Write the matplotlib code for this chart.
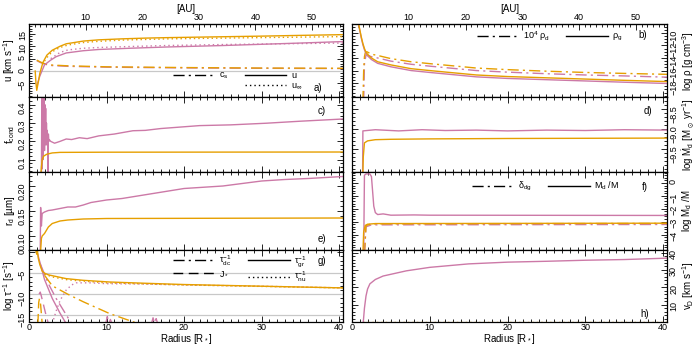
import numpy as np
import matplotlib
matplotlib.use('Agg')
import matplotlib.pyplot as plt
from matplotlib.ticker import MultipleLocator, FixedLocator
from matplotlib.lines import Line2D

plt.rcParams['font.family'] = ['Liberation Sans', 'DejaVu Sans']
plt.rcParams['mathtext.default'] = 'regular'
plt.rcParams['font.size'] = 6.5

ORANGE = '#E69F00'
PINK = '#CC79A7'
GREY = '#c8c8c8'
DASHDOT = (0, (8, 3, 1.5, 3))
DASHED = (0, (7, 4))
DOTTED = (0, (1, 2.2))
AU_PER_RSTAR = 1.37

# ---- panel a: velocities
r_u_or = [0.8, 0.9, 1.0, 1.2, 1.4, 1.8, 2.3, 3, 4, 4.8, 7, 9, 12, 15, 18, 22, 26, 30, 35, 40.5]
u_or = [0, -5, -7.8, -4.5, -0.9, 3.5, 6.4, 8.4, 10.0, 11.0, 12.1, 12.6, 13.0, 13.3, 13.5, 13.7, 13.9, 14.1, 14.4, 14.7]
r_uinf_or = [2.0, 2.5, 3, 4, 5, 7, 9, 12, 18, 25, 30, 35, 40.5]
uinf_or = [4.0, 6.2, 7.8, 9.5, 10.5, 11.5, 12.0, 12.5, 13.0, 13.3, 13.5, 13.7, 13.9]
r_u_pk = [1.0, 1.2, 1.4, 2.0, 2.8, 3.5, 4.8, 7, 9, 13, 17.7, 25, 30, 35, 40.5]
u_pk = [-6.0, -4.0, -2.0, 2.5, 4.4, 5.8, 7.3, 8.2, 8.7, 9.2, 9.7, 10.3, 10.8, 11.3, 11.9]
r_uinf_pk = [2.8, 4, 5, 7, 9, 13, 17.7, 25, 30, 35, 40.5]
uinf_pk = [5.0, 7.5, 8.5, 9.2, 9.5, 9.9, 10.3, 10.7, 10.9, 11.1, 11.3]
r_cs = [1.0, 1.5, 2.0, 2.5, 3, 5, 10, 20, 30, 40.5]
cs_or = [4.4, 3.6, 3.0, 2.6, 2.4, 2.1, 1.7, 1.4, 1.2, 1.1]
cs_pk = [4.2, 3.4, 2.8, 2.4, 2.2, 1.9, 1.55, 1.25, 1.1, 1.0]

# ---- panel b: densities
r_rho = [0.8, 1.0, 1.2, 1.4, 1.6, 1.8, 2.0, 2.5, 3.3, 5, 7.6, 10, 16, 20, 25, 30, 35, 40.5]
rhog_or = [-8.3, -9.5, -10.7, -11.7, -12.5, -13.1, -13.4, -14.0, -14.6, -15.1, -15.7, -16.0, -16.7, -16.95, -17.15, -17.35, -17.55, -17.75]
rhog_pk = [-8.4, -9.65, -10.85, -11.9, -12.7, -13.3, -13.65, -14.25, -14.85, -15.4, -16.0, -16.3, -17.0, -17.25, -17.45, -17.65, -17.85, -18.05]
r_rhod_or = [1.4, 1.5, 1.6, 1.7, 1.9, 2.5, 3.3, 5, 7.6, 10, 16, 20, 25, 30, 35, 40.5]
rhod_or = [-21, -16, -13.8, -13.2, -13.0, -13.4, -13.6, -14.1, -14.6, -14.9, -15.6, -15.85, -16.1, -16.3, -16.45, -16.6]
r_rhod_pk = [1.5, 1.6, 1.8, 2.5, 3.3, 5, 7.6, 10, 16, 20, 25, 30, 35, 40.5]
rhod_pk = [-21, -15, -13.5, -13.8, -14.0, -14.5, -15.0, -15.3, -16.0, -16.25, -16.5, -16.7, -16.85, -17.05]

# ---- panel c: condensation degree
r_fc_pk = [1.6, 1.65, 1.7, 1.75, 1.8, 1.85, 1.9, 1.95, 2.0, 2.05, 2.1, 2.15, 2.2, 2.25, 2.3, 2.35, 2.4, 2.45, 2.5, 2.55,
           2.6, 2.8, 3.3, 4, 4.8, 5.5, 6.5, 7.5, 9, 11, 13.4, 15, 17, 22, 26, 30.6, 35, 40.5]
fc_pk = [0.0, 0.46, 0.05, 0.46, 0.1, 0.45, 0.2, 0.46, 0.15, 0.40, 0.22, 0.38, 0.18, 0.30, 0.2, 0.26, 0.21, 0.0, 0.24, 0.2,
         0.21, 0.2, 0.19, 0.2, 0.213, 0.21, 0.22, 0.215, 0.23, 0.24, 0.258, 0.26, 0.27, 0.286, 0.29, 0.299, 0.31, 0.322]
r_fc_or = [1.5, 1.6, 1.7, 1.9, 2.3, 3, 4, 10, 40.5]
fc_or = [0.0, 0.06, 0.1, 0.12, 0.13, 0.137, 0.14, 0.141, 0.142]

# ---- panel d: dust mass loss rate
r_md_pk = [1.35, 1.4, 3, 6, 9, 12, 16, 20, 25, 30, 35, 40.5]
md_pk = [-10.5, -9.05, -9.02, -9.05, -9.02, -9.04, -9.03, -9.05, -9.03, -9.04, -9.02, -9.03]
r_md_or = [1.35, 1.45, 1.6, 2, 3, 5, 10, 20, 40.5]
md_or = [-10.5, -9.7, -9.35, -9.3, -9.27, -9.26, -9.25, -9.24, -9.23]

# ---- panel e: grain radius
r_rd_pk = [1.45, 1.5, 1.6, 1.7, 2, 2.5, 3, 4, 5, 6, 7, 8, 10, 12, 14, 16, 18, 20, 22, 25, 28, 30, 33, 36, 40.5]
rd_pk = [0.07, 0.157, 0.12, 0.145, 0.148, 0.151, 0.152, 0.155, 0.158, 0.158, 0.162, 0.167, 0.172, 0.175, 0.18,
         0.185, 0.19, 0.195, 0.197, 0.2, 0.206, 0.21, 0.213, 0.215, 0.219]
r_rd_or = [1.5, 1.6, 1.7, 2.0, 2.5, 3, 4, 5, 7, 10, 40.5]
rd_or = [0.07, 0.095, 0.1, 0.105, 0.118, 0.125, 0.13, 0.132, 0.134, 0.135, 0.136]

# ---- panel f: dust-to-gas
r_mdm_pk = [1.5, 1.6, 1.8, 2.3, 2.5, 2.8, 3.0, 3.3, 4, 5, 8, 10, 40.5]
mdm_pk = [-5.5, 0.6, 0.7, 0.7, 0.5, -1.8, -2.3, -2.45, -2.4, -2.5, -2.48, -2.5, -2.52]
r_mdm_or = [1.4, 1.5, 1.7, 2, 3, 40.5]
mdm_or = [-5.5, -3.8, -3.3, -3.2, -3.15, -3.12]
r_ddg = [1.6, 1.8, 2.5, 40.5]
ddg_pk = [-5.5, -3.4, -3.25, -3.22]
ddg_or = [-5.5, -3.3, -3.17, -3.14]

# ---- panel g: timescales
r_tgr_or = [0.9, 1.0, 1.1, 1.2, 1.4, 1.7, 2, 2.5, 3, 4.8, 7, 10.4, 15, 20, 30, 40.5]
tgr_or = [0.3, -0.5, 0.2, -1.5, -3.0, -4.5, -5.0, -5.4, -5.6, -6.3, -6.7, -7.1, -7.4, -7.7, -8.1, -8.5]
r_tnu_or = [2, 3, 5, 10, 20, 30, 40.5]
tnu_or = [-5.2, -5.9, -6.6, -7.3, -7.8, -8.15, -8.5]
r_tgr_pk = [1.0, 1.5, 2.0, 3.0, 4.0, 4.8]
tgr_pk = [0.3, -3.0, -6.5, -11.0, -14.5, -17.0]
r_tnu_pk = [3.0, 3.5, 4.0, 4.8, 5.5, 6.1, 8, 10, 15, 20, 30, 40.5]
tnu_pk = [-17, -14, -11.5, -9.0, -7.8, -7.3, -7.3, -7.5, -7.6, -7.8, -8.1, -8.5]
r_tdc_or = [2.0, 3, 5, 7, 10.4, 13.8]
tdc_or = [-5.5, -8.0, -10.0, -11.8, -14.6, -16.8]
r_tdc_pk = [1.5, 2.5, 3.5, 4.5, 5.5]
tdc_pk = [-3.0, -7.5, -11.0, -14.0, -17.0]
r_j_or = [1.15, 1.25, 1.35, 1.5, 1.7]
j_or = [-17, -12, -11, -12.5, -17]
r_j_pk = [1.3, 1.45, 1.6, 1.8, 2.2, 2.5, np.nan, 9.9, 10.1, 10.3, 10.5, 10.7, 10.9, np.nan, 15.8, 16.0, 16.2, 16.4, 16.6]
j_pk = [-10, -9.5, -10.5, -12, -15, -17, np.nan, -17, -15.3, -17, -16.0, -17, -15.8, np.nan, -17, -15.6, -17, -15.8, -17]

# ---- panel h: drift velocity
r_vd_pk = [1.45, 1.6, 1.8, 2.0, 2.3, 3, 4, 5, 7, 10, 15, 20, 25, 30, 35, 40.5]
vd_pk = [0, 8, 15, 19, 22, 24.5, 26.5, 27.5, 29.5, 31.5, 33.5, 34.5, 35, 35.6, 36, 36.8]
r_vd_or = [1.4, 40.5]
vd_or = [0.1, 0.1]

au_ticks = [10, 20, 30, 40, 50]

fig = plt.figure(figsize=(6.95, 3.47), dpi=100)
H = 347.0
rows = [24, 97, 172, 250, 322]
lx0, lx1 = 29 / 695, 343 / 695
rx0, rx1 = 352 / 695, 667 / 695
LBL = 7


def make_ax(col, row):
    top, bot = rows[row], rows[row + 1]
    x0, x1 = (lx0, lx1) if col == 0 else (rx0, rx1)
    ax = fig.add_axes([x0, 1 - bot / H, x1 - x0, (bot - top) / H])
    ax.set_xlim(0, 40.5)
    ax.xaxis.set_major_locator(MultipleLocator(10))
    ax.xaxis.set_minor_locator(MultipleLocator(1))
    ax.tick_params(which='both', direction='in', top=True, bottom=True, left=True, right=True,
                   width=0.6, labelsize=6.5, pad=1.5)
    ax.tick_params(which='major', length=4)
    ax.tick_params(which='minor', length=2)
    ax.tick_params(axis='y', labelrotation=90)
    if col == 1:
        ax.tick_params(axis='y', labelleft=False, labelright=True)
        ax.yaxis.set_label_position('right')
    if row < 3:
        ax.tick_params(axis='x', labelbottom=False)
    else:
        ax.tick_params(axis='x', pad=1)
        ax.set_xlabel('Radius [R$_*$]', fontsize=LBL, labelpad=0)
    if row == 0:
        ax.tick_params(axis='x', which='both', top=False)
        sec = ax.secondary_xaxis('top', functions=(lambda r: r * AU_PER_RSTAR, lambda a: a / AU_PER_RSTAR))
        sec.xaxis.set_major_locator(FixedLocator(au_ticks))
        sec.xaxis.set_minor_locator(MultipleLocator(1))
        sec.tick_params(which='both', direction='in', width=0.6, labelsize=6.5, pad=1.5)
        sec.tick_params(which='major', length=4)
        sec.tick_params(which='minor', length=2)
        sec.set_xlabel('[AU]', fontsize=LBL, labelpad=0.5)
    for s in ax.spines.values():
        s.set_linewidth(0.9)
    return ax


def leg(ax, handles, labels, ncol, x, y):
    ax.legend(handles, labels, ncol=ncol, loc='upper left', bbox_to_anchor=(x, y), frameon=False,
              fontsize=6.5, handlelength=4.6, handletextpad=0.5, columnspacing=1.8, labelspacing=0.15,
              borderpad=0, borderaxespad=0)


def h(ls):
    return Line2D([], [], color='black', lw=1.0, linestyle=ls)


blank = Line2D([], [], color='none')
lw = 1.0

# a
ax = make_ax(0, 0)
ax.axhline(0, color=GREY, lw=0.9)
ax.plot(r_cs, cs_pk, color=PINK, lw=lw, linestyle=DASHDOT)
ax.plot(r_cs, cs_or, color=ORANGE, lw=lw, linestyle=DASHDOT)
ax.plot(r_u_pk, u_pk, color=PINK, lw=lw)
ax.plot(r_uinf_pk, uinf_pk, color=PINK, lw=lw, linestyle=DOTTED)
ax.plot(r_u_or, u_or, color=ORANGE, lw=lw)
ax.plot(r_uinf_or, uinf_or, color=ORANGE, lw=lw, linestyle=DOTTED)
ax.set_ylim(-10.5, 19)
ax.yaxis.set_major_locator(FixedLocator([-5, 0, 5, 10, 15]))
ax.yaxis.set_minor_locator(MultipleLocator(1))
ax.set_ylabel('u [km s$^{-1}$]', fontsize=LBL, labelpad=0.5)
leg(ax, [h(DASHDOT), blank, h('-'), h(DOTTED)], ['c$_s$', '', 'u', 'u$_\\infty$'], 2, 0.459, 0.36)
ax.text(0.92, 0.13, 'a)', transform=ax.transAxes, ha='center', va='center', fontsize=LBL)

# b
ax = make_ax(1, 0)
ax.plot(r_rhod_pk, rhod_pk, color=PINK, lw=lw, linestyle=DASHDOT)
ax.plot(r_rhod_or, rhod_or, color=ORANGE, lw=lw, linestyle=DASHDOT)
ax.plot(r_rho, rhog_pk, color=PINK, lw=lw)
ax.plot(r_rho, rhog_or, color=ORANGE, lw=lw)
ax.set_ylim(-20.2, -8.6)
ax.yaxis.set_major_locator(FixedLocator([-18, -16, -14, -12, -10]))
ax.yaxis.set_minor_locator(MultipleLocator(0.5))
ax.set_ylabel('log ρ [g cm$^{-3}$]', fontsize=LBL, labelpad=1.5)
leg(ax, [h(DASHDOT), h('-')], ['10$^4$ ρ$_d$', 'ρ$_g$'], 2, 0.397, 0.93)
ax.text(0.924, 0.85, 'b)', transform=ax.transAxes, ha='center', va='center', fontsize=LBL)

# c
ax = make_ax(0, 1)
ax.plot(r_fc_pk, fc_pk, color=PINK, lw=lw)
ax.plot(r_fc_or, fc_or, color=ORANGE, lw=lw)
ax.set_ylim(0.033, 0.442)
ax.yaxis.set_major_locator(FixedLocator([0.1, 0.2, 0.3, 0.4]))
ax.yaxis.set_minor_locator(MultipleLocator(0.02))
ax.set_ylabel('f$_{cond}$', fontsize=LBL, labelpad=0.5)
ax.text(0.933, 0.81, 'c)', transform=ax.transAxes, ha='center', va='center', fontsize=LBL)

# d
ax = make_ax(1, 1)
ax.plot(r_md_pk, md_pk, color=PINK, lw=lw)
ax.plot(r_md_or, md_or, color=ORANGE, lw=lw)
ax.set_ylim(-10.08, -8.2)
ax.yaxis.set_major_locator(FixedLocator([-9.5, -9.0, -8.5]))
ax.yaxis.set_minor_locator(MultipleLocator(0.1))
ax.set_ylabel('log $\\dot{M}_d$ [M$_\\odot$ yr$^{-1}$]', fontsize=LBL, labelpad=1.5)
ax.text(0.94, 0.81, 'd)', transform=ax.transAxes, ha='center', va='center', fontsize=LBL)

# e
ax = make_ax(0, 2)
ax.plot(r_rd_pk, rd_pk, color=PINK, lw=lw)
ax.plot(r_rd_or, rd_or, color=ORANGE, lw=lw)
ax.set_ylim(0.072, 0.228)
ax.yaxis.set_major_locator(FixedLocator([0.10, 0.15, 0.20]))
ax.yaxis.set_major_formatter(plt.FormatStrFormatter('%.2f'))
ax.yaxis.set_minor_locator(MultipleLocator(0.01))
ax.set_ylabel('r$_d$ [µm]', fontsize=LBL, labelpad=0.5)
ax.text(0.933, 0.14, 'e)', transform=ax.transAxes, ha='center', va='center', fontsize=LBL)

# f
ax = make_ax(1, 2)
ax.plot(r_ddg, ddg_pk, color=PINK, lw=lw, linestyle=DASHDOT)
ax.plot(r_ddg, ddg_or, color=ORANGE, lw=lw, linestyle=DASHDOT)
ax.plot(r_mdm_pk, mdm_pk, color=PINK, lw=lw)
ax.plot(r_mdm_or, mdm_or, color=ORANGE, lw=lw)
ax.set_ylim(-5.2, 0.85)
ax.yaxis.set_major_locator(FixedLocator([-4, -3, -2, -1, 0]))
ax.yaxis.set_minor_locator(MultipleLocator(0.2))
ax.set_ylabel('log M$_d$ /M', fontsize=LBL, labelpad=1.5)
leg(ax, [h(DASHDOT), h('-')], ['δ$_{dg}$', 'M$_d$ /M'], 2, 0.381, 0.9)
ax.text(0.93, 0.81, 'f)', transform=ax.transAxes, ha='center', va='center', fontsize=LBL)

# g
ax = make_ax(0, 3)
for yv in [-5, -10, -15]:
    ax.axhline(yv, color=GREY, lw=0.9)
ax.plot(r_tgr_pk, tgr_pk, color=PINK, lw=lw)
ax.plot(r_tdc_pk, tdc_pk, color=PINK, lw=lw, linestyle=DASHDOT)
ax.plot(r_j_pk, j_pk, color=PINK, lw=lw, linestyle=DASHED)
ax.plot(r_tnu_pk, tnu_pk, color=PINK, lw=lw, linestyle=DOTTED)
ax.plot(r_tdc_or, tdc_or, color=ORANGE, lw=lw, linestyle=DASHDOT)
ax.plot(r_j_or, j_or, color=ORANGE, lw=lw, linestyle=DASHED)
ax.plot(r_tnu_or, tnu_or, color=ORANGE, lw=lw, linestyle=DOTTED)
ax.plot(r_tgr_or, tgr_or, color=ORANGE, lw=lw)
ax.set_ylim(-16.6, 0.5)
ax.yaxis.set_major_locator(FixedLocator([-15, -10, -5, 0]))
ax.yaxis.set_minor_locator(MultipleLocator(1))
ax.set_ylabel('log τ$^{-1}$ [s$^{-1}$]', fontsize=LBL, labelpad=0.5)
leg(ax, [h(DASHDOT), h(DASHED), h('-'), h(DOTTED)],
    ['τ$_{dc}^{-1}$', 'J$_*$', 'τ$_{gr}^{-1}$', 'τ$_{nu}^{-1}$'], 2, 0.459, 0.95)
ax.text(0.933, 0.85, 'g)', transform=ax.transAxes, ha='center', va='center', fontsize=LBL)

# h
ax = make_ax(1, 3)
ax.plot(r_vd_or, vd_or, color=ORANGE, lw=lw, linestyle=DOTTED)
ax.plot(r_vd_pk, vd_pk, color=PINK, lw=lw)
ax.set_ylim(0, 41.5)
ax.yaxis.set_major_locator(FixedLocator([10, 20, 30, 40]))
ax.yaxis.set_minor_locator(MultipleLocator(2))
ax.set_ylabel('v$_D$ [km s$^{-1}$]', fontsize=LBL, labelpad=1.5)
ax.text(0.93, 0.11, 'h)', transform=ax.transAxes, ha='center', va='center', fontsize=LBL)

fig.savefig('out.png', dpi=100)
